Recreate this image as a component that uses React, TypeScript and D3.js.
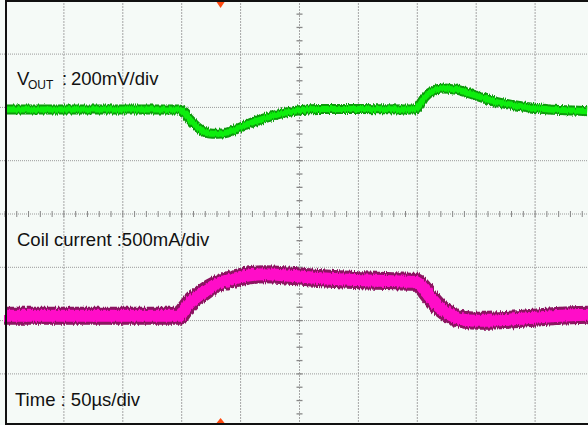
import React from "react";
import * as d3 from "d3";

// Oscilloscope settings
const timePerDiv = 50; // µs/div
const voutPerDiv = 200; // mV/div
const currentPerDiv = 500; // mA/div
const hDivs = 10;
const vDivs = 8;
const voutPosition = 1.96; // div above centre
const currentPosition = -1.91; // div (below centre)
const triggerTime = 183; // µs

// VOUT deviation (mV) vs time (µs)
const voutTime = [0, 148.6, 151, 157, 163.8, 169.8, 175.7, 184.2, 199.5, 212, 225, 237.7, 250.4, 267, 301, 348, 350.6, 356.5, 362.5, 371.8, 382, 400.8, 416, 431, 449, 471, 495];
const voutMv = [0, 0, -6, -38, -68, -85, -91, -90, -68, -45, -27, -12, -3, 2, 2, 0, 9, 47, 69, 79, 75, 51, 30, 17, 6, -2, -6];

// Coil current deviation (mA) vs time (µs)
const currTime = [0, 148.6, 151, 157, 165.5, 174, 182.5, 193.7, 208, 220.7, 242, 276, 318, 348, 352.3, 360.8, 369.3, 377.8, 386, 400.8, 420, 449, 471, 495];
const currMa = [0, 0, 37, 122, 197, 263, 310, 347, 380, 389, 375, 347, 328, 319, 291, 178, 75, 9, -28, -47, -42, -19, 0, 9];

const labels = {
  vout: "V",
  voutSub: "OUT",
  voutScale: "200mV/div",
  coil: "Coil current :500mA/div",
  time: "Time : 50µs/div",
};

const W = 588;
const H = 425;

export default function App() {
  const x = d3.scaleLinear().domain([0, timePerDiv * hDivs]).range([5, 594]);
  const y = d3.scaleLinear().domain([-vDivs / 2, vDivs / 2]).range([427.2, 0.8]);

  const voutPts: [number, number][] = voutTime.map((t, i) => [x(t), y(voutPosition + voutMv[i] / voutPerDiv)]);
  const currPts: [number, number][] = currTime.map((t, i) => [x(t), y(currentPosition + currMa[i] / currentPerDiv)]);
  const line = d3.line().curve(d3.curveMonotoneX);
  const voutPath = line(voutPts) || "";
  const currPath = line(currPts) || "";

  const vLines = d3.range(1, hDivs).map((d) => x(d * timePerDiv));
  const hLines = d3.range(-vDivs / 2 + 1, vDivs / 2).map((d) => y(d));
  const cx = x((hDivs / 2) * timePerDiv);
  const cy = y(0);
  const hMinor = d3.range(0, hDivs * 5 + 1).map((i) => x((i * timePerDiv) / 5));
  const vMinor = d3.range(0, vDivs * 4 + 1).map((i) => y(-vDivs / 2 + i / 4));
  const tx = x(triggerTime);

  return (
    <svg width={W} height={H} style={{ position: "fixed", left: 0, top: 0 }} fontFamily="'Liberation Sans', Arial, sans-serif">
      <defs>
        <filter id="noise" x="-5%" y="-50%" width="110%" height="200%">
          <feTurbulence type="fractalNoise" baseFrequency="0.9 0.05" numOctaves="1" seed="3" result="t" />
          <feDisplacementMap in="SourceGraphic" in2="t" scale="5" xChannelSelector="B" yChannelSelector="G" />
        </filter>
      </defs>
      <rect x={0} y={0} width={W} height={H} fill="#f5faf7" />
      {vLines.map((vx, i) => (
        <line key={"v" + i} x1={vx} x2={vx} y1={0} y2={H} stroke="#a6a6a6" strokeWidth={1} strokeDasharray="2 1" />
      ))}
      {hLines.map((hy, i) => (
        <line key={"h" + i} x1={0} x2={W} y1={hy} y2={hy} stroke="#9a9a9a" strokeWidth={1} strokeDasharray="1 1" />
      ))}
      {hMinor.map((mx, i) => (
        <line key={"hm" + i} x1={mx} x2={mx} y1={cy - 3} y2={cy + 3} stroke="#888" strokeWidth={1} />
      ))}
      {vMinor.map((my, i) => (
        <line key={"vm" + i} x1={cx - 3} x2={cx + 3} y1={my} y2={my} stroke="#888" strokeWidth={1.3} />
      ))}

      <g filter="url(#noise)">
        <path d={voutPath} fill="none" stroke="#0c9a0c" strokeWidth={10} />
        <path d={voutPath} fill="none" stroke="#10ee10" strokeWidth={6} />
        <path d={currPath} fill="none" stroke="#8a1260" strokeWidth={18} />
        <path d={currPath} fill="none" stroke="#ff10c8" strokeWidth={12} />
      </g>

      <g fill="#111" fontSize={18.5}>
        <text x={17} y={85}>{labels.vout}</text>
        <text x={28} y={88.5} fontSize={12}>{labels.voutSub}</text>
        <text x={62} y={85}>:</text>
        <text x={71} y={85}>{labels.voutScale}</text>
        <text x={17} y={246}>{labels.coil}</text>
        <text x={15} y={406}>{labels.time}</text>
      </g>

      <rect x={5} y={0} width={W} height={2} fill="#111" />
      <rect x={5} y={0} width={2} height={H} fill="#111" />
      <rect x={5} y={423} width={W} height={2} fill="#111" />
      <path d={`M${tx - 4},2 L${tx + 4},2 L${tx},8 Z`} fill="#ff4a10" />
      <path d={`M${tx - 4},423 L${tx + 4},423 L${tx},418 Z`} fill="#ff4a10" />
    </svg>
  );
}
